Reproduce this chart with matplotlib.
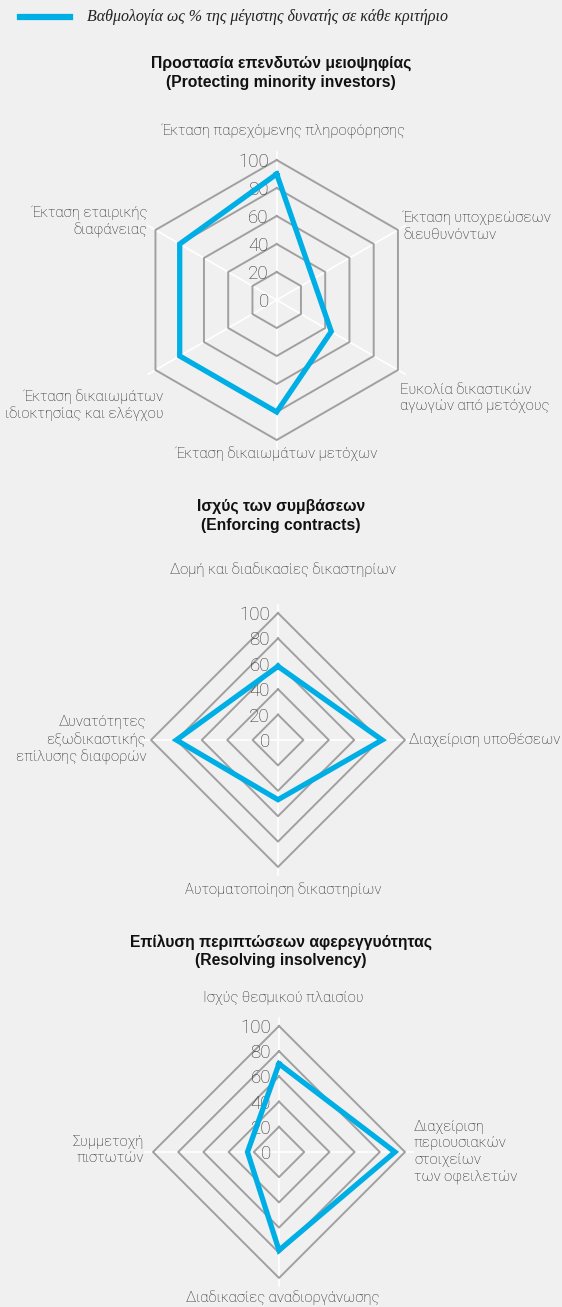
import numpy as np
import matplotlib.pyplot as plt
from matplotlib.lines import Line2D

W, H = 562, 1307
BG = '#f0f0f0'
BLUE = '#00aee6'
GRID = '#a0a0a0'
TXT = '#1a1a1a'
LIGHT = ['Roboto', 'DejaVu Sans']

legend_label = 'Βαθμολογία ως % της μέγιστης δυνατής σε κάθε κριτήριο'
ring_ticks = [0, 20, 40, 60, 80, 100]

# --- data: each chart clockwise from the top axis ---
title_investors = 'Προστασία επενδυτών μειοψηφίας\n(Protecting minority investors)'
cats_investors = ['Έκταση παρεχόμενης πληροφόρησης',
                  'Έκταση υποχρεώσεων\nδιευθυνόντων',
                  'Ευκολία δικαστικών\nαγωγών από μετόχους',
                  'Έκταση δικαιωμάτων μετόχων',
                  'Έκταση δικαιωμάτων\nιδιοκτησίας και ελέγχου',
                  'Έκταση εταιρικής\nδιαφάνειας']
vals_investors = [90, 30, 45, 80, 80, 80]

title_contracts = 'Ισχύς των συμβάσεων\n(Enforcing contracts)'
cats_contracts = ['Δομή και διαδικασίες δικαστηρίων',
                  'Διαχείριση υποθέσεων',
                  'Αυτοματοποίηση δικαστηρίων',
                  'Δυνατότητες\nεξωδικαστικής\nεπίλυσης διαφορών']
vals_contracts = [58, 82, 47, 80]

title_insolvency = 'Επίλυση περιπτώσεων αφερεγγυότητας\n(Resolving insolvency)'
cats_insolvency = ['Ισχύς θεσμικού πλαισίου',
                   'Διαχείριση\nπεριουσιακών\nστοιχείων\nτων οφειλετών',
                   'Διαδικασίες αναδιοργάνωσης',
                   'Συμμετοχή\nπιστωτών']
vals_insolvency = [70, 92, 78, 25]


def radar(fig, cx, cy, r, cats, vals, label_offsets):
    """Draw one radar chart centred at pixel (cx, cy) with radius r (pixels)."""
    ax = fig.add_axes([(cx - r) / W, (H - cy - r) / H, 2 * r / W, 2 * r / H],
                      projection='polar')
    ax.set_theta_offset(np.pi / 2)
    ax.set_theta_direction(-1)
    ax.set_ylim(0, 100)
    ax.set_axis_off()

    n = len(cats)
    theta = np.linspace(0, 2 * np.pi, n, endpoint=False)
    closed = np.r_[theta, theta[0]]

    # white spokes
    for t in theta:
        ax.plot([t, t], [0, 106], color='white', lw=1.2, clip_on=False, zorder=1)
    # polygon rings
    for v in ring_ticks[1:]:
        ax.plot(closed, [v] * (n + 1), color=GRID, lw=1.4, clip_on=False, zorder=2)
    # ring labels
    for v in ring_ticks:
        ax.annotate(str(v), xy=(0, v), xytext=(-8, -2), textcoords='offset pixels',
                    ha='right', va='center', fontsize=13.5, color='#333333',
                    family=LIGHT, fontweight='light', zorder=3)
    # data
    ax.plot(closed, np.r_[vals, vals[0]], color=BLUE, lw=3.8,
            solid_joinstyle='miter', clip_on=False, zorder=5)
    # category labels
    for t, lab, (dx, dy, ha) in zip(theta, cats, label_offsets):
        ax.annotate(lab, xy=(t, 100), xytext=(dx, dy), textcoords='offset pixels',
                    ha=ha, va='center', multialignment=ha, fontsize=10.6,
                    color=TXT, family=LIGHT, fontweight='light', linespacing=1.25,
                    annotation_clip=False)
    return ax


fig = plt.figure(figsize=(W / 100, H / 100), dpi=100, facecolor=BG)

# legend
fig.add_artist(Line2D([20 / W, 70 / W], [1 - 17 / H] * 2, color=BLUE, lw=4.5))
fig.text(87 / W, 1 - 17 / H, legend_label, ha='left', va='center', fontsize=11.5,
         style='italic', family='Liberation Serif', color='#222222')

# titles
for title, y in [(title_investors, 73), (title_contracts, 516), (title_insolvency, 951)]:
    fig.text(281 / W, 1 - y / H, title, ha='center', va='center', fontsize=11.3,
             fontweight='bold', family='Liberation Sans', color='#111111',
             linespacing=1.3)

radar(fig, 276.7, 300, 140, cats_investors, vals_investors,
      [(7, 29, 'center'), (5, 4, 'left'), (2, -28, 'left'),
       (0, -14, 'center'), (8, -35, 'right'), (-8, 8, 'right')])
radar(fig, 278, 740, 127, cats_contracts, vals_contracts,
      [(5, 43, 'center'), (4, 0, 'left'), (5, -23, 'center'), (-5, 0, 'right')])
radar(fig, 279, 1152, 126, cats_insolvency, vals_insolvency,
      [(4, 28, 'center'), (9, 0, 'left'), (4, -20, 'center'), (-9, 2, 'right')])

fig.savefig('out.png', dpi=100, facecolor=BG)
